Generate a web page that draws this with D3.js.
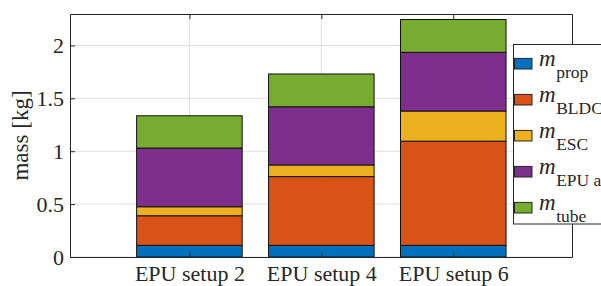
<!DOCTYPE html>
<html>
<head>
<meta charset="utf-8">
<script src="https://cdn.jsdelivr.net/npm/d3@7"></script>
<style>
  body { margin: 0; background: white; }
  svg text { font-family: "Liberation Serif", "DejaVu Serif", serif; fill: #262626; }
</style>
</head>
<body>
<div id="chart"></div>
<script>
// data
var setups = ["EPU setup 2", "EPU setup 4", "EPU setup 6"];
var parts = ["prop", "BLDC", "ESC", "EPU arm", "tube"];
var mProp = [0.11, 0.11, 0.11];
var mBLDC = [0.28, 0.65, 0.985];
var mESC = [0.085, 0.11, 0.285];
var mEPU = [0.555, 0.55, 0.555];
var mTube = [0.305, 0.31, 0.31];
var yTicks = [0, 0.5, 1, 1.5, 2];
var colors = ["#0072BD", "#D95319", "#EDB120", "#7E2F8E", "#77AC30"];

var svgWidth = 601;
var svgHeight = 286;

var chartMargin = { top: 14, right: 29, bottom: 29, left: 70 };
var chartWidth = svgWidth - chartMargin.left - chartMargin.right;
var chartHeight = svgHeight - chartMargin.top - chartMargin.bottom;

var rows = setups.map(function (s, i) {
  return { setup: s, idx: i + 1, prop: mProp[i], BLDC: mBLDC[i], ESC: mESC[i], "EPU arm": mEPU[i], tube: mTube[i] };
});

var svg = d3.select("#chart")
  .append("svg")
  .attr("width", svgWidth)
  .attr("height", svgHeight);

var chartGroup = svg.append("g")
  .attr("transform", `translate(${chartMargin.left}, ${chartMargin.top})`);

// x positions like matlab's numeric bar axis
var xScale = d3.scaleLinear()
  .domain([0.095, 3.9])
  .range([0, chartWidth]);

var yScale = d3.scaleLinear()
  .domain([0, 2.297])
  .range([chartHeight, 0]);

var barW = xScale(1.8) - xScale(1);

// grid
chartGroup.append("g")
  .selectAll("line")
  .data(yTicks)
  .enter()
  .append("line")
  .attr("x1", 0)
  .attr("x2", chartWidth)
  .attr("y1", d => yScale(d))
  .attr("y2", d => yScale(d))
  .attr("stroke", "#dfdfdf")
  .attr("stroke-width", 1);

chartGroup.append("g")
  .selectAll("line")
  .data(rows)
  .enter()
  .append("line")
  .attr("x1", d => xScale(d.idx))
  .attr("x2", d => xScale(d.idx))
  .attr("y1", 0)
  .attr("y2", chartHeight)
  .attr("stroke", "#dfdfdf")
  .attr("stroke-width", 1);

// stacked bars
var stacked = d3.stack().keys(parts)(rows);

chartGroup.selectAll(".layer")
  .data(stacked)
  .enter()
  .append("g")
  .attr("class", "layer")
  .attr("fill", (d, i) => colors[i])
  .selectAll("rect")
  .data(d => d)
  .enter()
  .append("rect")
  .attr("x", d => xScale(d.data.idx) - barW / 2)
  .attr("y", d => yScale(d[1]))
  .attr("width", barW)
  .attr("height", d => yScale(d[0]) - yScale(d[1]))
  .attr("stroke", "#111")
  .attr("stroke-width", 1);

// axes
var leftAxis = d3.axisLeft(yScale)
  .tickValues(yTicks)
  .tickFormat(d3.format("~g"))
  .tickSizeInner(-5)
  .tickSizeOuter(0)
  .tickPadding(6);

var bottomAxis = d3.axisBottom(xScale)
  .tickValues([1, 2, 3])
  .tickFormat(d => setups[d - 1])
  .tickSizeInner(-5)
  .tickSizeOuter(0)
  .tickPadding(8);

var topAxis = d3.axisTop(xScale)
  .tickValues([1, 2, 3])
  .tickFormat("")
  .tickSizeInner(-5)
  .tickSizeOuter(0);

var rightAxis = d3.axisRight(yScale)
  .tickValues(yTicks)
  .tickFormat("")
  .tickSizeInner(-5)
  .tickSizeOuter(0);

chartGroup.append("g").attr("class", "ax").call(leftAxis);
chartGroup.append("g").attr("class", "ax").attr("transform", `translate(0, ${chartHeight})`).call(bottomAxis);
chartGroup.append("g").attr("class", "ax").call(topAxis);
chartGroup.append("g").attr("class", "ax").attr("transform", `translate(${chartWidth}, 0)`).call(rightAxis);

chartGroup.selectAll(".ax")
  .attr("font-family", "Liberation Serif")
  .attr("font-size", 22);

chartGroup.selectAll(".domain, .tick line")
  .attr("stroke", "#262626")
  .attr("stroke-width", 1);

chartGroup.selectAll(".tick text")
  .attr("fill", "#262626");

// y label
svg.append("text")
  .attr("transform", `translate(28, ${chartMargin.top + chartHeight / 2}) rotate(-90)`)
  .attr("text-anchor", "middle")
  .attr("font-family", "Liberation Serif")
  .attr("font-size", 23)
  .text("mass [kg]");

// legend
var legend = svg.append("g")
  .attr("transform", "translate(513.5, 44.5)")
  .attr("font-family", "Liberation Serif");

legend.append("rect")
  .attr("width", 110)
  .attr("height", 179.5)
  .attr("fill", "white")
  .attr("stroke", "#262626")
  .attr("stroke-width", 1);

var items = legend.selectAll(".item")
  .data(parts)
  .enter()
  .append("g")
  .attr("class", "item")
  .attr("transform", (d, i) => `translate(0, ${19.2 + i * 36})`);

items.append("rect")
  .attr("x", 1)
  .attr("y", -5.3)
  .attr("width", 17.5)
  .attr("height", 10.6)
  .attr("fill", (d, i) => colors[i])
  .attr("stroke", "#262626")
  .attr("stroke-width", 1);

var lbl = items.append("text")
  .attr("x", 25.5)
  .attr("y", 2)
  .attr("font-size", 23);

lbl.append("tspan")
  .style("font-style", "italic")
  .text("m");

lbl.append("tspan")
  .attr("dy", 12)
  .attr("dx", 0.5)
  .attr("font-size", 17.5)
  .text(d => d);
</script>
</body>
</html>
